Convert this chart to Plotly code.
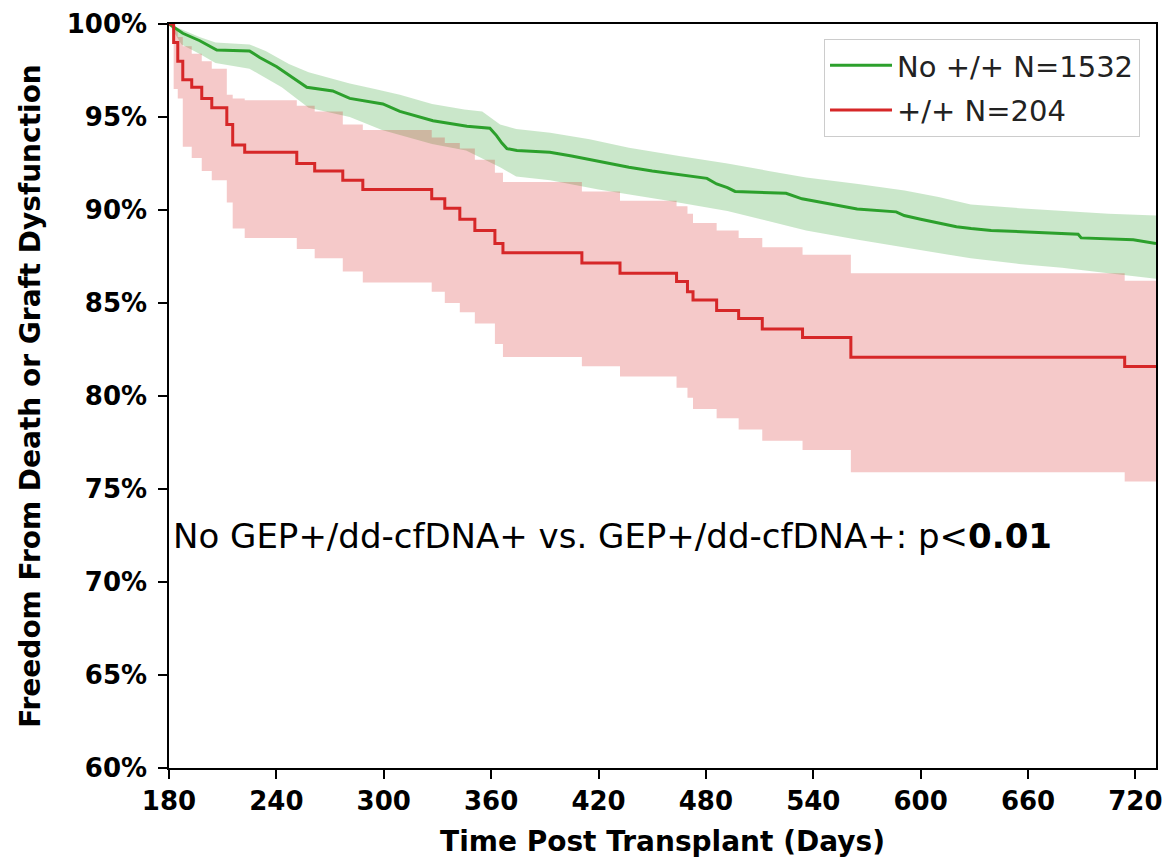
import plotly.graph_objects as go

# ---- data (days post transplant, survival %) ----
green_days = [180, 187.7, 197.2, 206.7, 225, 230.7, 240.2, 249.1, 257.0, 271.5, 281.0, 299.5, 309.0,
              327.5, 346.5, 359.3, 363.0, 366.0, 368.8, 374.4, 392.8, 405, 420, 437, 450, 465,
              480.6, 486, 492, 496.3, 524.8, 533.7, 545, 555, 564.5, 586.3, 590.8, 600, 610,
              620, 628.2, 639.4, 688, 689.7, 718.8, 728, 731.5]
green_surv = [100, 99.5, 99.1, 98.6, 98.55, 98.2, 97.7, 97.1, 96.6, 96.4, 96.0, 95.7, 95.3,
              94.8, 94.5, 94.4, 94.0, 93.6, 93.3, 93.2, 93.1, 92.9, 92.6, 92.3, 92.1, 91.9,
              91.7, 91.4, 91.2, 91.0, 90.9, 90.6, 90.4, 90.2, 90.05, 89.9, 89.7, 89.5, 89.3,
              89.1, 89.0, 88.9, 88.7, 88.5, 88.4, 88.25, 88.2]

green_up_days = [180, 187, 197, 206, 225, 234, 247, 258, 270, 281, 295, 309, 327, 345, 355,
                 365, 374, 393, 415, 437, 465, 492, 515, 536, 565, 591, 610, 628, 655, 679,
                 705, 731.5]
green_up = [100, 99.7, 99.3, 99.0, 98.9, 98.55, 97.85, 97.4, 97.1, 96.8, 96.5, 96.2, 95.7,
            95.4, 95.3, 94.6, 94.35, 94.15, 93.8, 93.35, 92.9, 92.5, 92.1, 91.75, 91.4, 91.05,
            90.7, 90.3, 90.1, 89.95, 89.8, 89.7]

green_lo_days = [180, 187, 197, 206, 225, 243, 258, 281, 299, 327, 346, 365, 374, 393, 420,
                 459, 492, 515, 536, 565, 591, 628, 655, 679, 705, 731.5]
green_lo = [100, 98.9, 98.4, 97.9, 97.6, 96.6, 95.5, 95.0, 94.3, 93.55, 93.2, 92.3, 91.8,
            91.6, 91.1, 90.5, 89.95, 89.4, 88.9, 88.4, 88.0, 87.4, 87.1, 86.9, 86.6, 86.3]

red_days = [180, 182.6, 184.9, 187.7, 192.7, 198.3, 203.9, 212.3, 215.6, 222.3, 251.4, 261.4,
            277.1, 288.3, 326.8, 334.1, 342.5, 350.9, 362.1, 366.6, 410.7, 432, 463.6, 469.7,
            472.8, 486, 498.3, 511.5, 534, 561, 714, 731.5]
red_surv = [100, 99.0, 98.0, 97.0, 96.6, 96.0, 95.5, 94.6, 93.5, 93.1, 92.5, 92.1,
            91.6, 91.1, 90.6, 90.1, 89.5, 88.9, 88.2, 87.7, 87.15, 86.6, 86.15, 85.6,
            85.16, 84.6, 84.17, 83.6, 83.15, 82.08, 81.58, 81.58]
red_up = [100, 99.7, 99.3, 98.8, 98.4, 98.0, 97.6, 96.2, 96.0, 95.9, 95.6, 95.3,
          94.6, 94.3, 93.9, 93.6, 93.3, 92.7, 92.0, 91.5, 91.0, 90.5, 90.2, 89.8,
          89.3, 88.9, 88.5, 88.0, 87.6, 86.6, 86.2, 86.2]
red_lo = [100, 96.5, 96.0, 93.4, 92.8, 92.1, 91.6, 90.4, 89.0, 88.5, 87.9, 87.4,
          86.7, 86.1, 85.6, 85.0, 84.5, 83.9, 82.8, 82.1, 81.6, 81.05, 80.45, 79.9,
          79.3, 78.8, 78.2, 77.6, 77.1, 75.9, 75.4, 75.4]

x_ticks = [180, 240, 300, 360, 420, 480, 540, 600, 660, 720]
y_ticks = [60, 65, 70, 75, 80, 85, 90, 95, 100]
y_tick_labels = [f"{v}%" for v in y_ticks]

GREEN = "#2ca02c"
RED = "#d62728"
FONT = "DejaVu Sans"

fig = go.Figure()

# green CI
fig.add_trace(go.Scatter(x=green_lo_days, y=green_lo, mode="lines", line=dict(width=0, shape="linear"),
                         showlegend=False, hoverinfo="skip", legendgroup="g"))
fig.add_trace(go.Scatter(x=green_up_days, y=green_up, mode="lines", line=dict(width=0, shape="linear"),
                         fill="tonexty", fillcolor="rgba(44,160,44,0.25)", showlegend=False,
                         hoverinfo="skip", legendgroup="g"))
# red CI
fig.add_trace(go.Scatter(x=red_days, y=red_lo, mode="lines", line=dict(width=0, shape="hv"),
                         showlegend=False, hoverinfo="skip", legendgroup="r"))
fig.add_trace(go.Scatter(x=red_days, y=red_up, mode="lines", line=dict(width=0, shape="hv"),
                         fill="tonexty", fillcolor="rgba(214,39,40,0.25)", showlegend=False,
                         hoverinfo="skip", legendgroup="r"))
# lines
fig.add_trace(go.Scatter(x=green_days, y=green_surv, mode="lines", name="No +/+ N=1532",
                         line=dict(color=GREEN, width=3, shape="linear"), legendgroup="g"))
fig.add_trace(go.Scatter(x=red_days, y=red_surv, mode="lines", name="+/+ N=204",
                         line=dict(color=RED, width=3, shape="hv"), legendgroup="r"))

fig.add_annotation(xref="paper", yref="y", x=0.002, y=72.5, xanchor="left", yanchor="middle",
                   text="No GEP+/dd-cfDNA+ vs. GEP+/dd-cfDNA+: p&lt;<b>0.01</b>",
                   showarrow=False, font=dict(family=FONT, size=34, color="black"))

axis_common = dict(showline=True, linecolor="black", linewidth=1.5, mirror=True,
                   ticks="outside", ticklen=9, tickwidth=1.5, tickcolor="black",
                   showgrid=False, zeroline=False, automargin=False,
                   tickfont=dict(family=FONT, size=26, color="black", weight="bold"))

fig.update_xaxes(range=[180, 731.5], tickvals=x_ticks, ticktext=[str(v) for v in x_ticks],
                 title=dict(text="<b>Time Post Transplant (Days)</b>", standoff=16,
                            font=dict(family=FONT, size=28, color="black")),
                 **axis_common)
fig.update_yaxes(range=[60, 100], tickvals=y_ticks, ticktext=y_tick_labels,
                 ticklabelstandoff=6,
                 title=dict(text="<b>Freedom From Death or Graft Dysfunction</b>", standoff=18,
                            font=dict(family=FONT, size=28, color="black")),
                 **axis_common)

fig.update_layout(
    width=1166, height=858,
    margin=dict(l=169, r=10, t=24, b=90),
    plot_bgcolor="white", paper_bgcolor="white",
    legend=dict(x=0.9838, y=0.98, xanchor="right", yanchor="top",
                bgcolor="white", bordercolor="#cccccc", borderwidth=1,
                font=dict(family=FONT, size=29, color="#222222"),
                itemwidth=62, tracegroupgap=4, traceorder="grouped"),
    font=dict(family=FONT),
)

fig.write_html("out.html")
